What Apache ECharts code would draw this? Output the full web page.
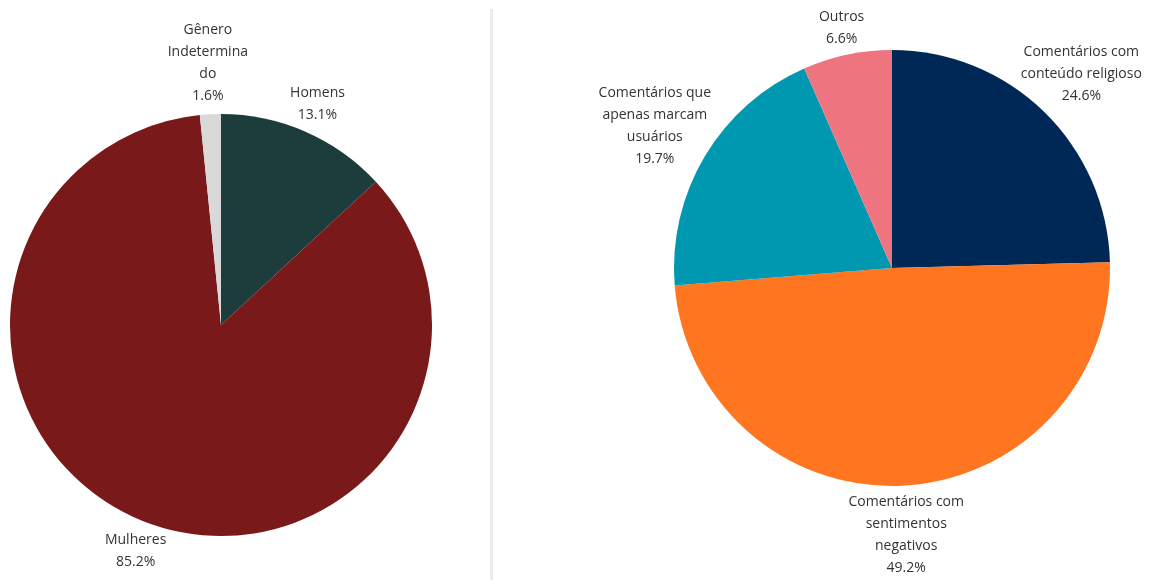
<!DOCTYPE html>
<html><head><meta charset="utf-8">
<script src="https://cdn.jsdelivr.net/npm/echarts@6/dist/echarts.min.js"></script>
<style>html,body{margin:0;padding:0;background:#fff}#c{width:1173px;height:585px}</style>
</head><body><div id="c"></div>
<script>
// Left pie: gender
const genderCategories = ['Homens', 'Mulheres', 'Gênero Indeterminado'];
const genderLabelText = ['Homens', 'Mulheres', 'Gênero\nIndetermina\ndo'];
const genderValues = [13.1, 85.2, 1.6];
const genderColors = ['#1d3c3c', '#7a191a', '#d9d9d9'];

// Right pie: comment types
const commentCategories = ['Comentários com conteúdo religioso', 'Comentários com sentimentos negativos', 'Comentários que apenas marcam usuários', 'Outros'];
const commentLabelText = ['Comentários com\nconteúdo religioso', 'Comentários com\nsentimentos\nnegativos', 'Comentários que\napenas marcam\nusuários', 'Outros'];
const commentValues = [24.6, 49.2, 19.7, 6.6];
const commentColors = ['#002856', '#ff7520', '#0098b1', '#ee7580'];

const LEFT = {cx: 221, cy: 325, r: 211};
const RIGHT = {cx: 892, cy: 268, r: 218};

function buildData(names, labels, values, colors) {
  return names.map((n, i) => ({name: n, value: values[i], labelText: labels[i], itemStyle: {color: colors[i]}}));
}

function makeLayout(geo, gap) {
  return function (p) {
    const rect = p.labelRect;
    let ax;
    if (p.align === 'right') ax = rect.x + rect.width;
    else if (p.align === 'left') ax = rect.x;
    else ax = (rect.x + rect.width / 2 < geo.cx) ? rect.x + rect.width : rect.x;
    const ay = rect.y + rect.height / 2;
    const dx = ax - geo.cx, dy = ay - geo.cy;
    const len = Math.hypot(dx, dy) || 1;
    const ux = dx / len, uy = dy / len;
    const hw = rect.width / 2, hh = rect.height / 2;
    const ext = Math.sqrt((hw * ux) * (hw * ux) + (hh * uy) * (hh * uy));
    const d = geo.r + gap + ext;
    return {x: geo.cx + ux * d, y: geo.cy + uy * d, align: 'center', verticalAlign: 'middle'};
  };
}

function pieSeries(geo, data, gap) {
  return {
    type: 'pie',
    center: [geo.cx, geo.cy],
    radius: geo.r,
    startAngle: 90,
    clockwise: true,
    avoidLabelOverlap: false,
    silent: true,
    data: data,
    itemStyle: {borderWidth: 0},
    label: {
      show: true,
      position: 'outside',
      alignTo: 'none',
      distanceToLabelLine: 0,
      fontFamily: 'Open Sans',
      fontSize: 14,
      lineHeight: 22,
      color: '#333333',
      align: 'center',
      formatter: function (p) { return p.data.labelText + '\n' + p.value.toFixed(1) + '%'; }
    },
    labelLine: {show: false, length: 0, length2: 0},
    labelLayout: makeLayout(geo, gap),
    emphasis: {disabled: true}
  };
}

const chart = echarts.init(document.getElementById('c'), null, {renderer: 'canvas'});
chart.setOption({
  animation: false,
  backgroundColor: '#ffffff',
  graphic: [{type: 'rect', shape: {x: 490, y: 9, width: 3, height: 571}, style: {fill: '#ebebeb'}, silent: true}],
  series: [
    pieSeries(LEFT, buildData(genderCategories, genderLabelText, genderValues, genderColors), 7),
    pieSeries(RIGHT, buildData(commentCategories, commentLabelText, commentValues, commentColors), 5)
  ]
});
</script>
</body></html>
